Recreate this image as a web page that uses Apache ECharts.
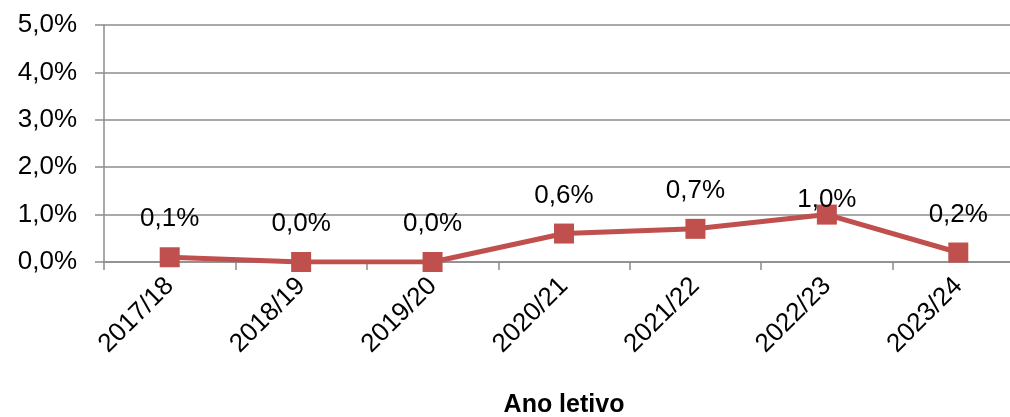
<!DOCTYPE html>
<html>
<head>
<meta charset="utf-8">
<script src="https://cdn.jsdelivr.net/npm/echarts@6/dist/echarts.min.js"></script>
<style>
html,body{margin:0;padding:0;background:#fff;}
#c{width:1010px;height:417px;}
</style>
</head>
<body>
<div id="c"></div>
<script>
var categories = ['2017/18','2018/19','2019/20','2020/21','2021/22','2022/23','2023/24'];
var values = [0.1, 0.0, 0.0, 0.6, 0.7, 1.0, 0.2];
var yTicks = [0, 1, 2, 3, 4, 5];
var axisTitle = 'Ano letivo';

function fmt(v){ return v.toFixed(1).replace('.', ',') + '%'; }

var seriesData = values.map(function(v, i){
  var item = {value: v};
  if (v === 1.0) { item.label = {distance: 0, offset: [0, 8]}; }
  return item;
});

var chart = echarts.init(document.getElementById('c'), null, {renderer:'canvas'});
chart.setOption({
  animation: false,
  backgroundColor: '#fff',
  textStyle: {fontFamily: '"Liberation Sans", Arial, sans-serif'},
  grid: {left: 104, right: -14, top: 25, bottom: 155, containLabel: false, outerBoundsMode: 'none'},
  xAxis: {
    type: 'category',
    data: categories,
    boundaryGap: true,
    name: axisTitle,
    nameLocation: 'middle',
    nameGap: 131,
    nameTextStyle: {fontSize: 25, fontWeight: 'bold', color: '#000'},
    axisLine: {show: true, lineStyle: {color: '#8c8c8c', width: 1.5}},
    axisTick: {show: true, length: 8, alignWithLabel: false, lineStyle: {color: '#8c8c8c', width: 1.5}},
    axisLabel: {rotate: 45, fontSize: 26, color: '#000', margin: 20, interval: 0},
    splitLine: {show: false}
  },
  yAxis: {
    type: 'value',
    min: yTicks[0],
    max: yTicks[yTicks.length-1],
    interval: 1,
    axisLine: {show: true, lineStyle: {color: '#8c8c8c', width: 1.5}},
    axisTick: {show: true, length: 9, lineStyle: {color: '#8c8c8c', width: 1.5}},
    axisLabel: {fontSize: 26, color: '#000', margin: 27, formatter: function(v){ return fmt(v); }},
    splitLine: {show: true, lineStyle: {color: '#8c8c8c', width: 1.5}}
  },
  series: [{
    type: 'line',
    data: seriesData,
    symbol: 'rect',
    symbolSize: 20,
    itemStyle: {color: '#C0504D'},
    lineStyle: {color: '#C0504D', width: 5},
    label: {show: true, position: 'top', distance: 15, fontSize: 26, color: '#000',
            formatter: function(p){ return fmt(p.value); }}
  }]
});
</script>
</body>
</html>
